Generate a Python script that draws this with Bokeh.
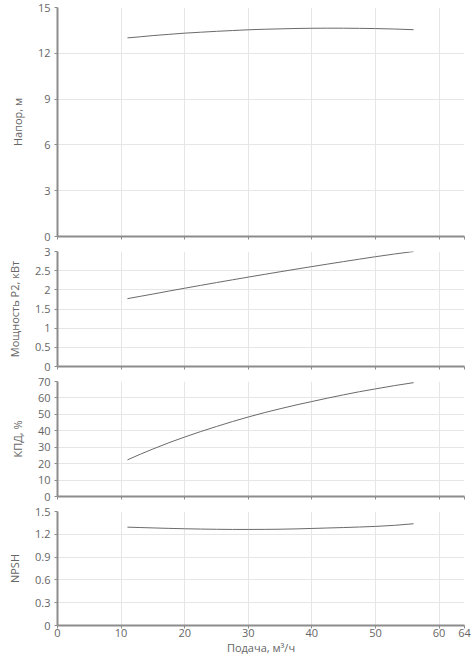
from bokeh.plotting import figure
from bokeh.layouts import column
from bokeh.models import FixedTicker, Range1d
from bokeh.embed import file_html
from bokeh.resources import INLINE

# ---- data ----
flow = [11, 13, 15, 17.5, 20, 22.5, 25, 27.5, 30, 32.5, 35, 37.5, 40, 42.5, 45, 47.5, 50, 53, 56]
head = [13.01, 13.08, 13.16, 13.24, 13.32, 13.38, 13.44, 13.49, 13.54, 13.575, 13.60, 13.625,
        13.64, 13.645, 13.644, 13.634, 13.62, 13.59, 13.545]
power = [1.77, 1.83, 1.89, 1.967, 2.042, 2.116, 2.189, 2.261, 2.332, 2.402, 2.471, 2.539,
         2.606, 2.672, 2.737, 2.801, 2.864, 2.935, 3.0]
efficiency = [22.3, 25.7, 28.9, 32.7, 36.2, 39.5, 42.6, 45.6, 48.4, 51.0, 53.4, 55.7,
              57.8, 59.9, 61.9, 63.8, 65.5, 67.5, 69.3]
npsh = [1.294, 1.289, 1.284, 1.278, 1.273, 1.269, 1.266, 1.264, 1.264, 1.265, 1.267, 1.271,
        1.277, 1.283, 1.289, 1.296, 1.304, 1.318, 1.339]

x_ticks = [0, 10, 20, 30, 40, 50, 60, 64]
head_ticks = [0, 3, 6, 9, 12, 15]
head_labels = ["0", "3", "6", "9", "12", "15"]
power_ticks = [0, 0.5, 1, 1.5, 2, 2.5, 3]
power_labels = ["0", "0.5", "1", "1.5", "2", "2.5", "3"]
eff_ticks = [0, 10, 20, 30, 40, 50, 60, 70]
eff_labels = ["0", "10", "20", "30", "40", "50", "60", "70"]
npsh_ticks = [0, 0.3, 0.6, 0.9, 1.2, 1.5]
npsh_labels = ["0", "0.3", "0.6", "0.9", "1.2", "1.5"]

y_titles = ["Напор, м", "Мощность P2, кВт", "КПД, %", "NPSH"]
x_title = "Подача, м³/ч"

FONT = "Open Sans"
TICK_COLOR = "#666666"
AXIS_COLOR = "#8c8c8c"
GRID_COLOR = "#e6e6e6"
LINE_COLOR = "#6a6a6a"

W = 472


def panel(yvals, yticks, ylabels, ytitle, height, top, bottom, last=False):
    p = figure(width=W, height=height, output_backend="svg", toolbar_location=None,
               x_range=Range1d(0, 64), y_range=Range1d(yticks[0], yticks[-1]),
               min_border_left=57, min_border_right=8, min_border_top=top,
               min_border_bottom=bottom)
    p.outline_line_color = None
    p.background_fill_color = "white"
    p.border_fill_color = "white"

    p.line(flow, yvals, line_color=LINE_COLOR, line_width=1)

    xa = p.xaxis[0]
    xa.ticker = FixedTicker(ticks=x_ticks)
    xa.minor_tick_line_color = None
    xa.major_tick_in = 0
    xa.major_tick_out = 3
    xa.axis_line_color = AXIS_COLOR
    xa.axis_line_width = 2
    xa.major_tick_line_color = AXIS_COLOR
    xa.major_label_text_font = FONT
    xa.major_label_text_color = TICK_COLOR
    if last:
        xa.major_label_text_font_size = "11px"
        xa.major_label_standoff = 0
        xa.axis_label = x_title
        xa.axis_label_text_font = FONT
        xa.axis_label_text_font_size = "11px"
        xa.axis_label_text_font_style = "normal"
        xa.axis_label_text_color = TICK_COLOR
        xa.axis_label_standoff = 0
    else:
        xa.major_label_text_color = None
        xa.major_label_text_font_size = "1px"
        xa.major_label_standoff = 0

    ya = p.yaxis[0]
    ya.ticker = FixedTicker(ticks=yticks)
    ya.major_label_overrides = {t: l for t, l in zip(yticks, ylabels)}
    ya.minor_tick_line_color = None
    ya.major_tick_in = 0
    ya.major_tick_out = 3
    ya.axis_line_color = AXIS_COLOR
    ya.axis_line_width = 2
    ya.major_tick_line_color = AXIS_COLOR
    ya.major_label_text_font = FONT
    ya.major_label_text_font_size = "11px"
    ya.major_label_text_color = TICK_COLOR
    ya.major_label_standoff = 4
    ya.axis_label = ytitle
    ya.axis_label_text_font = FONT
    ya.axis_label_text_font_size = "11px"
    ya.axis_label_text_font_style = "normal"
    ya.axis_label_text_color = TICK_COLOR
    ya.axis_label_standoff = 10

    p.xgrid.ticker = FixedTicker(ticks=x_ticks)
    p.ygrid.ticker = FixedTicker(ticks=yticks)
    p.xgrid.grid_line_color = GRID_COLOR
    p.ygrid.grid_line_color = GRID_COLOR
    return p


p1 = panel(head, head_ticks, head_labels, y_titles[0], 243, 7, 7)
p2 = panel(power, power_ticks, power_labels, y_titles[1], 130, 8, 7)
p3 = panel(efficiency, eff_ticks, eff_labels, y_titles[2], 130, 8, 7)
p4 = panel(npsh, npsh_ticks, npsh_labels, y_titles[3], 165, 8, 43, last=True)

layout = column(p1, p2, p3, p4, spacing=0)

open("out.html", "w").write(file_html(layout, INLINE))
